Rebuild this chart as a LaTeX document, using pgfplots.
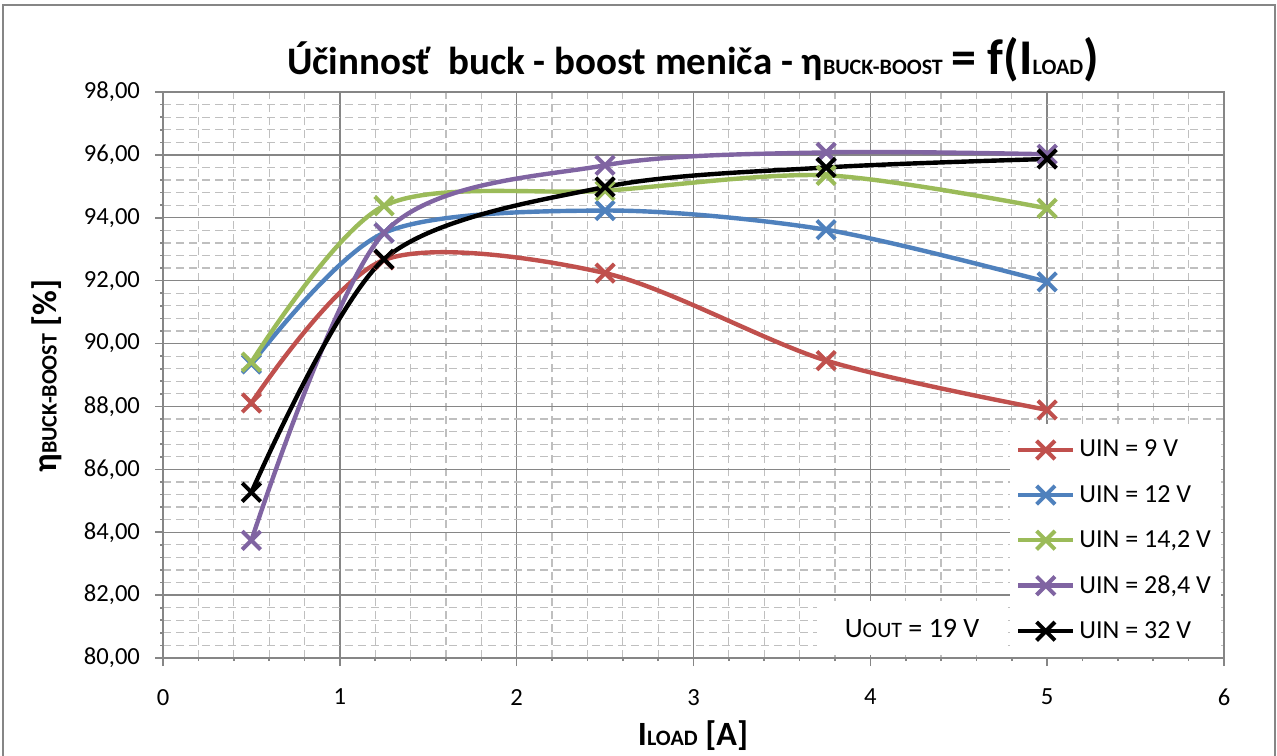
\documentclass[border=0pt]{standalone}
\usepackage{fontspec}
\setmainfont{Carlito}
\usepackage{pgfplots}
\pgfplotsset{compat=1.18}
\definecolor{cRed}{HTML}{C0504D}
\definecolor{cBlue}{HTML}{4F81BD}
\definecolor{cGreen}{HTML}{9BBB59}
\definecolor{cPurple}{HTML}{8064A2}
\definecolor{cMajor}{HTML}{868686}
\definecolor{cMinor}{HTML}{BFBFBF}
\begin{document}
\begin{tikzpicture}
\begin{scope}[x=0.5pt,y=-0.5pt]
\useasboundingbox (0,0) rectangle (1277,755);
\fill[white] (0,0) rectangle (1277,755);
\draw[cMajor, line width=1pt] (3,770) -- (3,5) -- (1275,5) -- (1275,770);
\node[anchor=base, font=\bfseries\fontsize{19.5}{22}\selectfont] at (693,74)
  {Účinnosť\ \ buck - boost meniča - η{\fontsize{11}{12}\selectfont BUCK-BOOST} {\fontsize{25}{26}\selectfont = f(I}{\fontsize{11}{12}\selectfont LOAD}{\fontsize{25}{26}\selectfont )}};
\node[anchor=base, font=\bfseries\fontsize{17}{20}\selectfont] at (693,745)
  {I{\fontsize{11}{12}\selectfont LOAD} [A]};
\node[rotate=90, anchor=center, font=\bfseries\fontsize{17}{20}\selectfont] at (47,376)
  {η{\fontsize{11}{12}\selectfont BUCK-BOOST} [\%]};
\end{scope}
\begin{axis}[
  at={(81.5pt,-329pt)}, anchor=south west,
  scale only axis, width=530.5pt, height=283pt,
  xmin=0, xmax=6, ymin=80, ymax=98,
  xtick={0,1,...,6}, ytick={80,82,...,98},
  minor tick num=4,
  grid=both,
  major grid style={color=cMajor, line width=0.7pt},
  minor grid style={color=cMinor, line width=0.6pt, dash pattern=on 4pt off 2.5pt},
  axis line style={cMajor, line width=0.8pt},
  tick style={cMajor, line width=0.8pt},
  tick align=outside, tick pos=left,
  major tick length=4pt, minor tick length=1.5pt,
  ticklabel style={font=\fontsize{12.3}{14}\selectfont, text=black},
  /pgf/number format/assume math mode=true,
  yticklabel={\pgfmathprintnumber[fixed, fixed zerofill, precision=2, use comma]{\tick}},
  xticklabel={\pgfmathprintnumber{\tick}},
  xticklabel style={yshift=-8pt},
  yticklabel style={xshift=-4pt},
  every axis plot/.append style={line width=2.2pt, smooth, mark=x, mark size=6.5pt, mark options={line width=2pt}},
  legend style={at={(0.798,0.414)}, anchor=north west, fill=white, draw=none,
    font=\fontsize{13}{15}\selectfont, row sep=8.6pt, inner xsep=3pt, inner ysep=6pt},
  legend cell align=left,
  legend image code/.code={\draw[#1, mark repeat=2, mark phase=2] plot coordinates {(0pt,0pt) (13.75pt,0pt) (27.5pt,0pt)};},
]
\addplot[cRed] coordinates {(0.5,88.11) (1.25,92.66) (2.5,92.24) (3.75,89.46) (5,87.89)};
\addlegendentry{UIN = 9 V}
\addplot[cBlue] coordinates {(0.5,89.35) (1.25,93.52) (2.5,94.23) (3.75,93.62) (5,91.96)};
\addlegendentry{UIN = 12 V}
\addplot[cGreen] coordinates {(0.5,89.41) (1.25,94.38) (2.5,94.86) (3.75,95.35) (5,94.30)};
\addlegendentry{UIN = 14,2 V}
\addplot[cPurple] coordinates {(0.5,83.74) (1.25,93.52) (2.5,95.67) (3.75,96.08) (5,96.02)};
\addlegendentry{UIN = 28,4 V}
\addplot[black] coordinates {(0.5,85.27) (1.25,92.68) (2.5,94.98) (3.75,95.60) (5,95.87)};
\addlegendentry{UIN = 32 V}
\node[fill=white, minimum width=95pt, minimum height=27pt, font=\fontsize{14}{16}\selectfont] at (rel axis cs:0.706,0.053)
  {U{\fontsize{11}{12}\selectfont OUT} = 19 V};
\end{axis}
\end{tikzpicture}
\end{document}
